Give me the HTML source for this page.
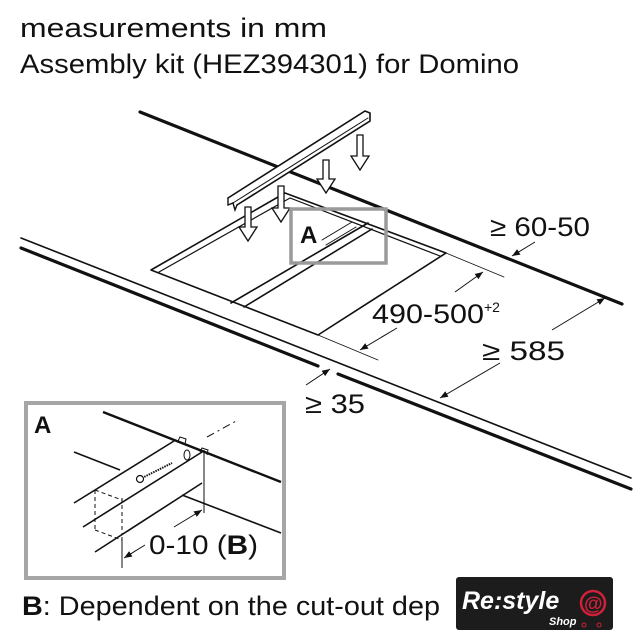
<!DOCTYPE html>
<html><head><meta charset="utf-8"><style>
html,body{margin:0;padding:0;background:#fff;}
svg{display:block;}
text{font-family:"Liberation Sans",Arial,sans-serif;fill:#111;}
</style></head><body>
<svg width="643" height="640" viewBox="0 0 643 640" xmlns="http://www.w3.org/2000/svg">
<defs>
<marker id="ah" viewBox="0 0 10 10" refX="10" refY="5" markerWidth="8" markerHeight="8" orient="auto-start-reverse" markerUnits="userSpaceOnUse"><path d="M0,1 L10,5 L0,9 z" fill="#111"/></marker>
</defs>
<text x="20" y="37" font-size="27" textLength="307" lengthAdjust="spacingAndGlyphs">measurements in mm</text>
<text x="20" y="73" font-size="27" textLength="499" lengthAdjust="spacingAndGlyphs">Assembly kit (HEZ394301) for Domino</text>

<g stroke="#111" fill="none" stroke-linecap="round">
<line x1="140" y1="112" x2="622" y2="304" stroke-width="3.2"/>
<line x1="21" y1="238" x2="631" y2="478" stroke-width="1.6"/>
<line x1="21" y1="248" x2="318" y2="366" stroke-width="3.2"/>
<line x1="338" y1="374" x2="631" y2="489" stroke-width="3.2"/>
<polygon points="151,270 285,193 446,253 318,335" stroke-width="1.6" stroke-linejoin="round"/>
<polyline points="159,272 290,198 440,256" stroke-width="1.2"/>
<line x1="231" y1="303" x2="368" y2="223" stroke-width="1.6"/>
<line x1="244" y1="307" x2="372" y2="229" stroke-width="1.6"/>
<line x1="322" y1="240" x2="352" y2="222" stroke-width="1"/>
<line x1="326" y1="245" x2="356" y2="227" stroke-width="1"/>
<polyline points="228,198 365,111 370,113 370,121 237,205" stroke-width="1.6" fill="#fff"/>
<polyline points="228,198 228,205 233,203 235,210 237,205" stroke-width="1.4"/>
<line x1="233" y1="203" x2="368" y2="118" stroke-width="1"/>
<line x1="446" y1="253" x2="504" y2="277" stroke-width="0.8"/>
<line x1="318" y1="335" x2="378" y2="360" stroke-width="0.8"/>
</g>
<g stroke="#111" stroke-width="1.3" fill="#fff">
<path d="M245,207 v20 h-6 l9,14 l9,-14 h-6 v-20 z"/>
<path d="M278,186 v22 h-6 l9,14 l9,-14 h-6 v-22 z"/>
<path d="M323,160 v19 h-6 l9,14 l9,-14 h-6 v-19 z"/>
<path d="M357,135 v21 h-6 l9,14 l9,-14 h-6 v-21 z"/>
</g>
<rect x="291" y="209" width="95" height="54" fill="none" stroke="#9a9a9a" stroke-width="3.5"/>
<text x="300" y="243" font-size="24" font-weight="bold">A</text>

<g stroke="#111" stroke-width="1" marker-end="url(#ah)">
<line x1="535" y1="242" x2="512" y2="256"/>
<line x1="455" y1="292" x2="483" y2="272"/>
<line x1="397" y1="328" x2="360" y2="350"/>
<line x1="552" y1="330" x2="605" y2="298"/>
<line x1="500" y1="363" x2="440" y2="398"/>
<line x1="306" y1="385" x2="330" y2="369"/>
</g>
<text x="490" y="236" font-size="27" textLength="100" lengthAdjust="spacingAndGlyphs">≥ 60-50</text>
<text x="372" y="323" font-size="27"><tspan textLength="112" lengthAdjust="spacingAndGlyphs">490-500</tspan><tspan font-size="14" dy="-11">+2</tspan></text>
<text x="482" y="360" font-size="27" textLength="83" lengthAdjust="spacingAndGlyphs">≥ 585</text>
<text x="305" y="413" font-size="27" textLength="60" lengthAdjust="spacingAndGlyphs">≥ 35</text>

<rect x="26" y="403" width="258" height="175" fill="#fff" stroke="#a6a6a6" stroke-width="4"/>
<text x="34" y="433" font-size="24" font-weight="bold">A</text>
<g stroke="#111" fill="none" stroke-width="1.6">
<line x1="103" y1="412" x2="281" y2="482" stroke-width="2.4"/>
<line x1="74" y1="452" x2="120" y2="470"/>
<line x1="74" y1="503" x2="174" y2="441"/>
<line x1="83" y1="527" x2="202" y2="452"/>
<line x1="95" y1="552" x2="202" y2="483"/>
<line x1="204" y1="450" x2="204" y2="513" stroke-width="1"/>
<line x1="182" y1="495" x2="281" y2="533"/>
<polyline points="178,441 180,437 186,439 185,444" stroke-width="1"/>
<polyline points="200,452 202,448 208,450 207,455" stroke-width="1"/>
<line x1="207" y1="437" x2="238" y2="420" stroke-width="1" stroke-dasharray="8,4,2,4"/>
<g stroke-dasharray="4,3" stroke-width="1">
<line x1="95" y1="490" x2="95" y2="530"/>
<line x1="122" y1="498" x2="122" y2="535"/>
<line x1="95" y1="490" x2="122" y2="500"/>
<line x1="95" y1="530" x2="122" y2="540"/>
</g>
<line x1="142" y1="478" x2="172" y2="463" stroke-width="2" stroke-dasharray="1.5,1"/>
<circle cx="140" cy="479" r="3.5" stroke-width="1.2" fill="#fff"/>
<ellipse cx="187" cy="455" rx="3" ry="5" stroke-width="1"/>
<line x1="122" y1="537" x2="122" y2="568" stroke-width="1"/>
</g>
<g stroke="#111" stroke-width="1" marker-end="url(#ah)">
<line x1="174" y1="527" x2="202" y2="510"/>
<line x1="145" y1="545" x2="124" y2="558"/>
</g>
<text x="149" y="554" font-size="27" textLength="109" lengthAdjust="spacingAndGlyphs">0-10 (<tspan font-weight="bold">B</tspan>)</text>

<text x="22" y="615" font-size="27" textLength="418" lengthAdjust="spacingAndGlyphs"><tspan font-weight="bold">B</tspan>: Dependent on the cut-out dep</text>

<rect x="456" y="577" width="157" height="53" rx="3" fill="#1c1c1c"/>
<text x="462" y="609" font-size="25" font-style="italic" font-weight="bold" style="fill:#fff">Re:style</text>
<text x="549" y="625" font-size="11" font-style="italic" font-weight="bold" style="fill:#fff">Shop</text>
<circle cx="593" cy="603" r="12" fill="none" stroke="#d0203a" stroke-width="2.5"/>
<text x="584" y="610" font-size="19" font-weight="bold" style="fill:#d0203a">@</text>
<circle cx="584" cy="625" r="2" fill="none" stroke="#d0203a"/>
<circle cx="599" cy="625" r="2" fill="none" stroke="#d0203a"/>
</svg>
</body></html>
